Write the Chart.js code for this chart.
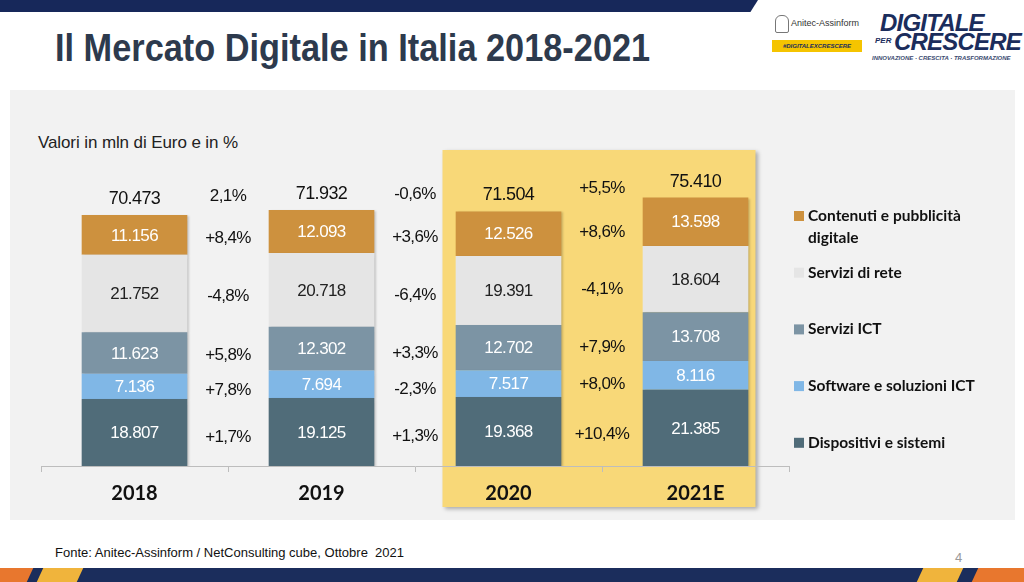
<!DOCTYPE html>
<html lang="it">
<head>
<meta charset="utf-8">
<title>Il Mercato Digitale in Italia 2018-2021</title>
<script src="https://cdn.jsdelivr.net/npm/chart.js@4.4.1/dist/chart.umd.min.js"></script>
<style>
  html, body { margin: 0; padding: 0; }
  body { width: 1024px; height: 582px; position: relative; overflow: hidden; background: #fff;
         font-family: "Liberation Sans", Arial, sans-serif; }
  .topbar { position: absolute; left: 0; top: 0; width: 758px; height: 12px; background: #17285a;
            clip-path: polygon(0 0, 100% 0, 99% 100%, 0 100%); }
  .bottombar { position: absolute; left: 0; top: 568px; width: 1024px; height: 14px; background: #1b2d5c; }
  .stripe { position: absolute; top: 568px; height: 14px; transform: skewX(-25deg); }
  .title { position: absolute; left: 55px; top: 26px; font-size: 39px; font-weight: bold; color: #2d3a4d;
           font-family: "Liberation Sans Narrow", "Liberation Sans", Arial, sans-serif;
           transform-origin: left top; transform: scaleX(0.88); white-space: nowrap; }
  .panel { position: absolute; left: 10px; top: 90px; width: 1005px; height: 430px; background: #f2f2f2; }
  .subtitle { position: absolute; left: 38px; top: 133px; font-size: 17px; color: #222; letter-spacing: -0.1px; }
  .source { position: absolute; left: 55px; top: 545px; font-size: 13px; color: #111; white-space: nowrap;
            font-family: "Liberation Sans Narrow", "Liberation Sans", Arial, sans-serif; }
  .pagenum { position: absolute; left: 955px; top: 550px; font-size: 13px; color: #999; }
  .logo1 { position: absolute; left: 775px; top: 15px; font-size: 9px; color: #333; }
  .logo1 .ico { position: absolute; left: 0; top: 0; width: 12px; height: 16px; border: 1px solid #777; border-radius: 6px 6px 2px 2px; }
  .logo1 .txt { position: absolute; left: 16px; top: 3px; white-space: nowrap; }
  .logo1 .tag { position: absolute; left: -3px; top: 25px; width: 90px; height: 12px; background: #f5c400;
                font-size: 6px; font-weight: bold; font-style: italic; color: #1b2d5c; text-align: center; line-height: 12px; }
  .logo2 { position: absolute; left: 872px; top: 9px; color: #1b2d5c; font-weight: bold; font-style: italic;
           font-family: "Liberation Sans", Arial, sans-serif; }
  .logo2 .a { position: absolute; left: 8px; top: 0; font-size: 24px; letter-spacing: -0.8px; }
  .logo2 .per { position: absolute; left: 3px; top: 27px; font-size: 8px; }
  .logo2 .b { position: absolute; left: 22px; top: 19px; font-size: 24px; letter-spacing: -0.8px; }
  .logo2 .c { position: absolute; left: 0; top: 46px; font-size: 6px; white-space: nowrap; color: #3a4a70; }
  #chartBox { position: absolute; left: 10px; top: 90px; width: 1005px; height: 430px; }
</style>
</head>
<body>
<div class="topbar"></div>
<div class="title">Il Mercato Digitale in Italia 2018-2021</div>
<div class="logo1"><div class="ico"></div><div class="txt">Anitec-Assinform</div><div class="tag">#DIGITALEXCRESCERE</div></div>
<div class="logo2"><span class="a">DIGITALE</span><span class="per">PER</span><span class="b">CRESCERE</span><span class="c">INNOVAZIONE · CRESCITA · TRASFORMAZIONE</span></div>
<div class="panel"></div>
<div class="subtitle">Valori in mln di Euro e in %</div>
<div id="chartBox"><canvas id="mercato"></canvas></div>
<div class="source">Fonte: Anitec-Assinform / NetConsulting cube, Ottobre&nbsp; 2021</div>
<div class="pagenum">4</div>
<div class="bottombar"></div>
<div class="stripe" style="left:-10px;width:40px;background:#e8772e"></div>
<div class="stripe" style="left:40px;width:40px;background:#f0b43c"></div>
<div class="stripe" style="left:920px;width:40px;background:#f0b43c"></div>
<div class="stripe" style="left:975px;width:60px;background:#e8772e"></div>

<script>
// valori in mln di Euro
var anni = ['2018', '2019', '2020', '2021E'];
var dispositivi = [18807, 19125, 19368, 21385];
var software = [7136, 7694, 7517, 8116];
var serviziICT = [11623, 12302, 12702, 13708];
var serviziRete = [21752, 20718, 19391, 18604];
var contenuti = [11156, 12093, 12526, 13598];
var totali = [70473, 71932, 71504, 75410];

// variazioni % anno su anno
var crescitaTotale = ['2,1%', '-0,6%', '+5,5%'];
var crescitaDispositivi = ['+1,7%', '+1,3%', '+10,4%'];
var crescitaSoftware = ['+7,8%', '-2,3%', '+8,0%'];
var crescitaICT = ['+5,8%', '+3,3%', '+7,9%'];
var crescitaRete = ['-4,8%', '-6,4%', '-4,1%'];
var crescitaContenuti = ['+8,4%', '+3,6%', '+8,6%'];

function fmt(n) {
    return String(n).replace(/\B(?=(\d{3})+(?!\d))/g, '.');
}

var decorPlugin = {
    id: 'decor',
    beforeDraw: function (chart) {
        var ctx = chart.ctx, x = chart.scales.x, area = chart.chartArea;
        var l = x.getPixelForValue(2) - 66;
        var r = x.getPixelForValue(3) + 60;
        ctx.save();
        ctx.shadowColor = 'rgba(0,0,0,0.3)';
        ctx.shadowBlur = 4;
        ctx.shadowOffsetX = 2;
        ctx.shadowOffsetY = 2;
        ctx.fillStyle = '#f8d878';
        ctx.fillRect(l, area.top + 40, r - l, area.bottom - area.top + 1);
        ctx.restore();
    },
    beforeDatasetsDraw: function (chart) {
        var ctx = chart.ctx;
        ctx.save();
        ctx.shadowColor = 'rgba(0,0,0,0.18)';
        ctx.shadowBlur = 2;
        ctx.shadowOffsetX = 2;
        ctx.shadowOffsetY = 1;
    },
    afterDatasetsDraw: function (chart) {
        var ctx = chart.ctx;
        ctx.restore();
        ctx.save();
        ctx.textAlign = 'center';
        ctx.textBaseline = 'middle';
        ctx.letterSpacing = '-0.6px';

        // valori dentro le barre
        ctx.font = '17px "Liberation Sans", Arial, sans-serif';
        chart.data.datasets.forEach(function (ds, i) {
            var meta = chart.getDatasetMeta(i);
            ctx.fillStyle = ds.labelColor;
            meta.data.forEach(function (bar, j) {
                ctx.fillText(fmt(ds.data[j]), bar.x, (bar.y + bar.base) / 2 + 1);
            });
        });

        // totali sopra le barre
        ctx.fillStyle = '#111';
        ctx.font = '18px "Liberation Sans", Arial, sans-serif';
        var topMeta = chart.getDatasetMeta(chart.data.datasets.length - 1);
        var totY = [];
        topMeta.data.forEach(function (bar, j) {
            totY.push(bar.y - 16);
            ctx.fillText(fmt(totali[j]), bar.x, bar.y - 16);
        });

        // variazioni % tra le barre
        ctx.font = '17px "Liberation Sans", Arial, sans-serif';
        var x = chart.scales.x;
        for (var j = 0; j < anni.length - 1; j++) {
            var gx = (x.getPixelForValue(j) + x.getPixelForValue(j + 1)) / 2;
            ctx.fillText(crescitaTotale[j], gx, (totY[j] + totY[j + 1]) / 2);
            chart.data.datasets.forEach(function (ds, i) {
                var meta = chart.getDatasetMeta(i);
                var a = meta.data[j], b = meta.data[j + 1];
                var cy = ((a.y + a.base) / 2 + (b.y + b.base) / 2) / 2 + 5;
                ctx.fillText(ds.growth[j], gx, cy);
            });
        }
        ctx.restore();
    },
    afterDraw: function (chart) {
        // legenda a destra
        var ctx = chart.ctx, area = chart.chartArea;
        var lx = area.right + 5;
        ctx.save();
        ctx.textBaseline = 'middle';
        ctx.font = 'bold 15.5px Lato, "Liberation Sans", sans-serif';
        var ds = chart.data.datasets.slice().reverse();
        ds.forEach(function (d, i) {
            var cy = area.top + 106 + i * 56.7;
            ctx.fillStyle = d.backgroundColor;
            ctx.fillRect(lx, cy - 5, 10, 10);
            ctx.fillStyle = '#111';
            d.legendLines.forEach(function (t, k) {
                ctx.fillText(t, lx + 14, cy + k * 22);
            });
        });
        ctx.restore();
    }
};

var ctx = document.getElementById('mercato').getContext('2d');
var mercatoChart = new Chart(ctx, {
    type: 'bar',
    data: {
        labels: anni,
        datasets: [{
            label: 'Dispositivi e sistemi',
            legendLines: ['Dispositivi e sistemi'],
            data: dispositivi,
            growth: crescitaDispositivi,
            backgroundColor: '#506c79',
            labelColor: '#fff'
        }, {
            label: 'Software e soluzioni ICT',
            legendLines: ['Software e soluzioni ICT'],
            data: software,
            growth: crescitaSoftware,
            backgroundColor: '#80b7e6',
            labelColor: '#fff'
        }, {
            label: 'Servizi ICT',
            legendLines: ['Servizi ICT'],
            data: serviziICT,
            growth: crescitaICT,
            backgroundColor: '#7c94a4',
            labelColor: '#fff'
        }, {
            label: 'Servizi di rete',
            legendLines: ['Servizi di rete'],
            data: serviziRete,
            growth: crescitaRete,
            backgroundColor: '#e5e5e5',
            labelColor: '#222'
        }, {
            label: 'Contenuti e pubblicità digitale',
            legendLines: ['Contenuti e pubblicità', 'digitale'],
            data: contenuti,
            growth: crescitaContenuti,
            backgroundColor: '#cd913e',
            labelColor: '#fff'
        }]
    },
    options: {
        responsive: true,
        maintainAspectRatio: false,
        animation: false,
        layout: { padding: { left: 31, right: 226, top: 20, bottom: 0 } },
        datasets: { bar: { barPercentage: 0.565, categoryPercentage: 1, borderWidth: 0 } },
        plugins: { legend: { display: false }, tooltip: { enabled: false } },
        scales: {
            x: {
                stacked: true,
                afterFit: function (scale) { scale.height = 54; },
                grid: { drawOnChartArea: false, tickLength: 6, color: '#bdbdbd', offset: true },
                border: { color: '#bdbdbd' },
                ticks: { color: '#111', padding: 10, font: { family: 'Lato', weight: 'bold', size: 20 } }
            },
            y: {
                stacked: true,
                display: false,
                min: 0,
                max: 100000
            }
        }
    },
    plugins: [decorPlugin]
});
</script>
</body>
</html>
